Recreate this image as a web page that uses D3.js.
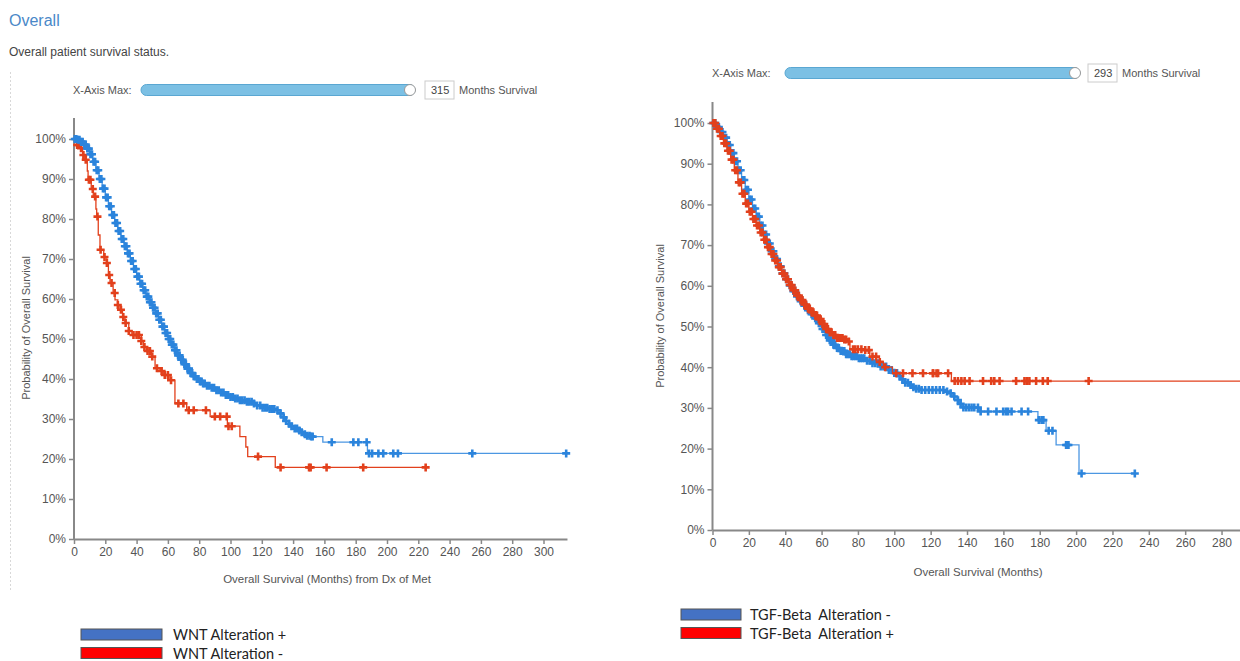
<!DOCTYPE html>
<html>
<head>
<meta charset="utf-8">
<script src="https://cdn.jsdelivr.net/npm/d3@7"></script>
<style>
  body { margin: 0; background: #fff; }
  svg { display: block; }
</style>
</head>
<body>
<svg id="chart" width="1240" height="661"></svg>
<script>
// ---- data (months, survival %) ----
var yTicks = [0, 10, 20, 30, 40, 50, 60, 70, 80, 90, 100]
var leftXTicks = [0, 20, 40, 60, 80, 100, 120, 140, 160, 180, 200, 220, 240, 260, 280, 300]
var rightXTicks = [0, 20, 40, 60, 80, 100, 120, 140, 160, 180, 200, 220, 240, 260, 280]

// left panel: WNT Alteration +
var wntPlusTime = [0, 2, 4, 6, 8, 10, 12, 14, 16, 18, 20, 22, 24, 26, 28, 30, 32, 34, 36, 38, 40, 42, 44, 46, 48, 50, 52, 54, 56, 58, 60, 62, 64, 66, 68, 70, 72, 74, 76, 78, 80, 82, 85, 88, 91, 94, 97, 100, 103, 106, 110, 114, 117, 120, 124, 129.5, 131, 133, 135, 137, 139, 141, 143, 145, 147, 149, 151, 159, 187.5, 315]
var wntPlusSurv = [100, 99.8, 99.3, 98.6, 97.6, 96.2, 94.3, 92.2, 90, 87.6, 85.4, 83.2, 81, 79, 77, 75, 73.2, 71.4, 69.5, 67.5, 65.6, 63.8, 62.2, 60.6, 59.2, 57.8, 56.4, 54.8, 53.1, 51.5, 50, 48.6, 47.2, 45.9, 44.8, 43.7, 42.6, 41.5, 40.7, 40, 39.4, 38.9, 38.3, 37.8, 37.2, 36.6, 36, 35.5, 35.1, 34.7, 34.3, 33.9, 33.4, 32.8, 32.5, 32.2, 31.4, 30.4, 29.5, 28.8, 28.2, 27.6, 27.1, 26.7, 26.2, 25.8, 25.6, 24.2, 21.4, 21.4]
var wntPlusCensor = [0.5, 1.5, 2.5, 3.5, 4.5, 5.5, 6.5, 7.5, 8.5, 9.5, 10.5, 11.5, 12.5, 13.5, 14.5, 15.5, 16.5, 17.5, 18.5, 19.5, 20.5, 21.5, 22.5, 23.5, 24.5, 25.5, 26.5, 27.5, 28.5, 29.5, 30.5, 31.5, 32.5, 33.5, 34.5, 35.5, 36.5, 37.5, 38.5, 39.5, 40.5, 41.5, 42.5, 43.5, 44.5, 45.5, 46.5, 47.5, 48.5, 49.5, 50.5, 51.5, 52.5, 53.5, 54.5, 55.5, 56.5, 57.5, 58.5, 59.5, 60.5, 61.5, 62.5, 63.5, 64.5, 65.5, 66.5, 67.5, 68.5, 69.5, 70.5, 71.5, 72.5, 73.5, 74.5, 75.5, 76.5, 77.5, 78.5, 79.5, 80.5, 81.5, 82.5, 83.5, 85, 86.5, 88, 89.5, 91, 92.5, 94, 95.5, 97, 98.5, 100, 101.5, 103, 104.5, 106, 107.5, 109, 110.5, 112, 113.5, 115, 117, 119, 120.5, 122, 123.5, 125, 126.5, 128, 130, 132, 134, 135.5, 137.5, 139, 141, 142.5, 144, 145.5, 147.5, 149, 150.5, 151.5, 152.5, 164.7, 178.5, 181.7, 187, 188.5, 190.5, 194.5, 197.6, 204, 207, 254.5, 314.5]

// left panel: WNT Alteration -
var wntMinusTime = [0, 2, 3.8, 5.5, 7, 8.5, 9, 11, 12.3, 14, 14.5, 15.5, 16.6, 19, 21, 22, 23, 25, 26.2, 28, 29.4, 31, 32.6, 35, 37, 43, 44.3, 46.4, 49.6, 51.8, 55, 57, 61.3, 64.5, 72, 87, 98, 106, 109.8, 111, 128.6, 225]
var wntMinusSurv = [100, 98.5, 97.7, 96, 94.8, 92, 89.8, 87.5, 85.6, 82.5, 80.6, 76, 72.3, 70.5, 69, 66, 64, 61.5, 59.8, 58.5, 57.3, 55.5, 54, 52, 51, 49.5, 48, 47, 45.6, 42.7, 42, 41, 39.7, 33.9, 32.2, 30.6, 28.2, 25.6, 23, 20.6, 17.9, 17.9]
var wntMinusCensor = [2, 3, 4.5, 6, 7.5, 9.5, 10.5, 12, 13.5, 15, 17, 19.5, 21, 22.5, 24, 26, 28, 30, 31.5, 33, 35, 38, 40, 41.5, 43, 45, 47, 48.5, 50, 53, 56, 58, 60, 62, 66.7, 69.9, 73.3, 76.5, 84.3, 90, 93.4, 97.6, 98.7, 100.8, 117.6, 132, 150.2, 151.2, 161.4, 184.8, 224.7]

// right panel: TGF-Beta Alteration -
var tgfMinusTime = [0, 2, 4, 6, 8, 10, 12, 14, 16, 18, 20, 22, 24, 26, 28, 30, 32, 34, 36, 38, 40, 42, 44, 46, 48, 50, 52, 54, 56, 58, 60, 62, 64, 66, 68, 70, 73, 76, 80, 84, 88, 92, 96, 99, 102, 104, 106, 108, 110, 112, 114, 125, 128, 130.6, 132, 134, 136, 138, 147, 179, 183.5, 189, 201.6, 232.3]
var tgfMinusSurv = [100, 99, 97.8, 96.4, 94.6, 92.6, 90.6, 88.4, 86, 83.6, 81.2, 79, 77, 74.8, 72.6, 70.4, 68.5, 66.6, 64.8, 63.1, 61.6, 60.1, 58.7, 57.4, 56.2, 55.1, 54, 53, 52, 50.8, 49.4, 47.9, 46.6, 45.5, 44.7, 44, 43.2, 42.7, 42.2, 41.6, 41, 40.2, 39.3, 38.6, 37.8, 37, 36.2, 35.6, 35.1, 34.7, 34.4, 34.4, 34, 33.6, 32.8, 31.9, 31, 30.1, 29.1, 27, 24.4, 20.9, 13.9, 13.9]
var tgfMinusCensor = [0.5, 1.5, 2.5, 3.5, 4.5, 5.5, 6.5, 7.5, 8.5, 9.5, 10.5, 11.5, 12.5, 13.5, 14.5, 15.5, 16.5, 17.5, 18.5, 19.5, 20.5, 21.5, 22.5, 23.5, 24.5, 25.5, 26.5, 27.5, 28.5, 29.5, 30.5, 31.5, 32.5, 33.5, 34.5, 35.5, 36.5, 37.5, 38.5, 39.5, 40.5, 41.5, 42.5, 43.5, 44.5, 45.5, 46.5, 47.5, 48.5, 49.5, 50.5, 51.5, 52.5, 53.5, 54.5, 55.5, 56.5, 57.5, 58.5, 59.5, 60.5, 61.5, 62.5, 63.5, 64.5, 65.5, 66.5, 67.5, 68.5, 69.5, 70.5, 71.5, 72.5, 73.5, 74.5, 75.5, 76.5, 77.5, 78.5, 79.5, 80.5, 81.5, 82.5, 83.5, 85, 86.5, 88, 89.5, 91, 92.5, 94, 95.5, 97, 98.5, 100, 101.5, 103, 104.5, 106, 107.5, 109, 110.5, 112, 113.5, 115, 117, 119, 121, 123, 125, 127, 129, 131, 133, 135, 136.5, 138, 139.5, 141, 142.5, 144, 146, 147.5, 151.6, 156.2, 159.9, 161.4, 162.6, 164.5, 170, 173.6, 179.5, 181, 182, 184.9, 187, 194.5, 195.2, 195.8, 203, 232.3]

// right panel: TGF-Beta Alteration +
var tgfPlusTime = [0, 2, 4, 6, 8, 10, 12, 14, 16, 18, 20, 22, 24, 26, 28, 30, 32, 34, 36, 38, 40, 42, 44, 46, 48, 50, 52, 54, 56, 58, 60, 62, 64, 66, 68, 72, 74.5, 75.6, 82, 86.5, 90.2, 94, 99, 131.4, 293]
var tgfPlusSurv = [100, 98.6, 96.8, 95, 93.2, 91, 88.4, 85.4, 82.6, 80.2, 78.2, 76.4, 74.8, 73.1, 71.3, 69.5, 67.8, 66.2, 64.6, 63, 61.6, 60.2, 58.9, 57.6, 56.5, 55.4, 54.4, 53.5, 52.7, 51.8, 50.6, 49.4, 48.6, 47.9, 47.2, 46.8, 46.3, 44.4, 44.2, 42.6, 41.3, 40, 38.5, 36.6, 36.6]
var tgfPlusCensor = [0.5, 1.5, 2.5, 3.5, 4.5, 5.5, 6.5, 7.5, 8.5, 9.5, 10.5, 11.5, 12.5, 13.5, 14.5, 15.5, 16.5, 17.5, 18.5, 19.5, 20.5, 21.5, 22.5, 23.5, 24.5, 25.5, 26.5, 27.5, 28.5, 29.5, 30.5, 31.5, 32.5, 33.5, 34.5, 35.5, 36.5, 37.5, 38.5, 39.5, 40.5, 41.5, 42.5, 43.5, 44.5, 45.5, 46.5, 47.5, 48.5, 49.5, 50.5, 51.5, 52.5, 53.5, 54.5, 55.5, 56.5, 57.5, 58.5, 59.5, 60.5, 61.5, 62.5, 63.5, 64.5, 65.5, 66.5, 67.5, 68.5, 69.5, 70.5, 71.5, 72.5, 73.5, 75, 77.3, 78.5, 80, 81.9, 84, 86, 88, 90, 92, 95, 101, 104.8, 110, 115.8, 121.2, 121.4, 123.2, 124.1, 129.6, 133.2, 135, 136.9, 138.7, 141.4, 148.8, 153.3, 155, 157.9, 167, 171.6, 172.9, 174.3, 178, 181.7, 184.4, 206.9, 292.5]

var blue = "#2b84dc"
var blueLine = "#4c97e2"
var red = "#e2401c"
var axisFont = "'Liberation Sans', Arial, sans-serif"
var legendFont = "Lato, 'Open Sans', sans-serif"

var svg = d3.select("#chart")

// header
svg.append("text").attr("x", 9).attr("y", 26)
  .attr("fill", "#4a88c8").style("font-size", "16px").style("font-family", axisFont)
  .text("Overall")
svg.append("text").attr("x", 9).attr("y", 56)
  .attr("fill", "#444").style("font-size", "12px").style("font-family", axisFont)
  .text("Overall patient survival status.")

// faint dotted frame on the left
svg.append("line").attr("x1", 10.5).attr("x2", 10.5).attr("y1", 72).attr("y2", 592)
  .attr("stroke", "#d8d8d8").attr("stroke-dasharray", "2,2")

// step value lookup for censor marks
stepAt = function(times, surv, t) {
  var i = d3.bisectRight(times, t) - 1
  if (i < 0) i = 0
  return surv[i]
}

drawSlider = function(cfg) {
  var g = svg.append("g")
  g.append("text").attr("x", cfg.labelX).attr("y", cfg.y + 4)
    .attr("fill", "#555").style("font-size", "11px").style("font-family", axisFont)
    .text("X-Axis Max:")
  g.append("rect").attr("x", cfg.x0).attr("y", cfg.y - 5.5)
    .attr("width", cfg.x1 - cfg.x0).attr("height", 11).attr("rx", 5.5)
    .attr("fill", "#7cc0e4").attr("stroke", "#5aa7d2")
  g.append("circle").attr("cx", cfg.x1 - 5).attr("cy", cfg.y).attr("r", 5.5)
    .attr("fill", "#fff").attr("stroke", "#999")
  g.append("rect").attr("x", cfg.boxX).attr("y", cfg.y - 9)
    .attr("width", 29).attr("height", 18)
    .attr("fill", "#fff").attr("stroke", "#ccc")
  g.append("text").attr("x", cfg.boxX + 6).attr("y", cfg.y + 4)
    .attr("fill", "#444").style("font-size", "11px").style("font-family", axisFont)
    .text(cfg.value)
  g.append("text").attr("x", cfg.boxX + 34).attr("y", cfg.y + 4)
    .attr("fill", "#555").style("font-size", "11px").style("font-family", axisFont)
    .text("Months Survival")
}

drawPanel = function(p) {
  var x = d3.scaleLinear().domain([0, p.xMax]).range([p.left, p.right])
  var y = d3.scaleLinear().domain([0, 100]).range([p.bottom, p.top100])
  var g = svg.append("g")

  // axes
  var yAxis = d3.axisLeft(y).tickValues(yTicks).tickSize(5).tickSizeOuter(0)
    .tickFormat(function(d) { return d + "%" })
  var gy = g.append("g").attr("transform", "translate(" + p.left + ",0)").call(yAxis)
  gy.select(".domain").remove()
  g.append("line").attr("x1", p.left).attr("x2", p.left).attr("y1", p.axisTop).attr("y2", p.bottom)
    .attr("stroke", "#888").attr("stroke-width", 2)

  var xAxis = d3.axisBottom(x).tickValues(p.xTicks).tickSize(5).tickSizeOuter(0)
  var gx = g.append("g").attr("transform", "translate(0," + p.bottom + ")").call(xAxis)
  gx.select(".domain").attr("stroke", "#888").attr("stroke-width", 2)

  g.selectAll(".tick line").attr("stroke", "#888").attr("stroke-width", 1.5)
  g.selectAll(".tick text").attr("fill", "#555")
    .style("font-size", "12px").style("font-family", axisFont)

  g.append("text")
    .attr("transform", "translate(" + p.yLabelX + "," + p.yLabelY + ") rotate(-90)")
    .attr("text-anchor", "middle").attr("fill", "#555")
    .style("font-size", "11px").style("font-family", axisFont)
    .text("Probability of Overall Survival")
  g.append("text").attr("x", p.xLabelX).attr("y", p.xLabelY)
    .attr("text-anchor", "middle").attr("fill", "#555")
    .style("font-size", "11.5px").style("font-family", axisFont)
    .text(p.xLabel)

  // curves
  var line = d3.line()
    .x(function(d) { return x(d[0]) })
    .y(function(d) { return y(d[1]) })
    .curve(d3.curveStepAfter)

  p.series.forEach(function(s) {
    var pts = s.time.map(function(t, i) { return [t, s.surv[i]] })
    g.append("path").datum(pts).attr("d", line)
      .attr("fill", "none").attr("stroke", s.lineColor).attr("stroke-width", 1.3)
    g.selectAll(null).data(s.censor).enter().append("path")
      .attr("transform", function(t) {
        return "translate(" + x(t) + "," + y(stepAt(s.time, s.surv, t)) + ")"
      })
      .attr("d", "M-4,0H4M0,-4V4")
      .attr("stroke", s.color).attr("stroke-width", 2.6)
  })
}

drawSlider({ labelX: 73, y: 90, x0: 141, x1: 415, boxX: 425, value: "315" })
drawSlider({ labelX: 712, y: 73, x0: 785, x1: 1080, boxX: 1088, value: "293" })

drawPanel({
  left: 74, right: 74 + 1.565 * 315, xMax: 315, bottom: 539, top100: 139, axisTop: 118,
  xTicks: leftXTicks, yLabelX: 30, yLabelY: 328, xLabelX: 327, xLabelY: 583,
  xLabel: "Overall Survival (Months) from Dx of Met",
  series: [
    { time: wntMinusTime, surv: wntMinusSurv, censor: wntMinusCensor, color: red, lineColor: red },
    { time: wntPlusTime, surv: wntPlusSurv, censor: wntPlusCensor, color: blue, lineColor: blueLine }
  ]
})

drawPanel({
  left: 712.5, right: 712.5 + 1.818 * 293, xMax: 293, bottom: 530, top100: 123, axisTop: 102,
  xTicks: rightXTicks, yLabelX: 664, yLabelY: 316, xLabelX: 978, xLabelY: 576,
  xLabel: "Overall Survival (Months)",
  series: [
    { time: tgfMinusTime, surv: tgfMinusSurv, censor: tgfMinusCensor, color: blue, lineColor: blueLine },
    { time: tgfPlusTime, surv: tgfPlusSurv, censor: tgfPlusCensor, color: red, lineColor: red }
  ]
})

// legends (pasted below the plots)
var legendLeft = [{ label: "WNT Alteration +", fill: "#4472c4" }, { label: "WNT Alteration -", fill: "#ff0000" }]
var legendRight = [{ label: "TGF-Beta  Alteration -", fill: "#4472c4" }, { label: "TGF-Beta  Alteration +", fill: "#ff0000" }]

drawLegend = function(items, x0, y0, w, textX) {
  var lg = svg.append("g")
  items.forEach(function(it, i) {
    lg.append("rect").attr("x", x0).attr("y", y0 + i * 18.5)
      .attr("width", w).attr("height", 11)
      .attr("fill", it.fill).attr("stroke", "#555").attr("stroke-width", 1)
    lg.append("text").attr("x", textX).attr("y", y0 + i * 18.5 + 11)
      .attr("fill", "#222").style("font-size", "14.5px").style("font-family", legendFont)
      .style("white-space", "pre")
      .text(it.label)
  })
}
drawLegend(legendLeft, 81, 629, 81, 173)
drawLegend(legendRight, 681, 609, 60, 750)
</script>
</body>
</html>
